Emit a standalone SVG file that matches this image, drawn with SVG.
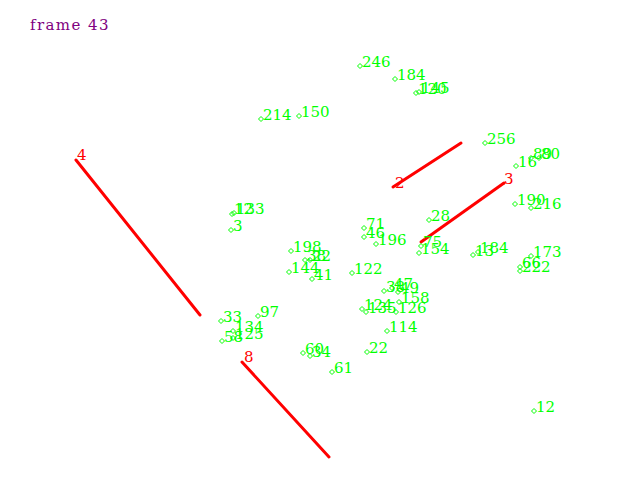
<svg xmlns="http://www.w3.org/2000/svg" xmlns:xlink="http://www.w3.org/1999/xlink" width="640" height="480" viewBox="0 0 640 480">
<style>
.lbl{font-family:"DejaVu Serif","Liberation Serif",serif;font-size:15px;fill:#00ff00}
.mk{fill:none;stroke:#00ff00;stroke-width:1}
.seg{stroke:#ff0000;stroke-width:3;stroke-linecap:round}
.rl{font-family:"DejaVu Serif","Liberation Serif",serif;font-size:15px;fill:#ff0000}
.title{font-family:"DejaVu Serif","Liberation Serif",serif;font-size:15px;fill:#800080;letter-spacing:1.4px}
</style>
<defs>
<path id="d" d="M0,-2.5 L2.5,0 L0,2.5 L-2.5,0 Z"/>
</defs>
<rect width="640" height="480" fill="#ffffff"/>
<text class="title" x="30" y="30">frame 43</text>
<g id="connectors">
<line class="seg" x1="76" y1="160" x2="200" y2="315"/>
<line class="seg" x1="242" y1="362" x2="329" y2="457"/>
<line class="seg" x1="393" y1="187" x2="461" y2="143"/>
<line class="seg" x1="421" y1="242" x2="504" y2="183"/>
<text class="rl" x="77" y="160">4</text>
<text class="rl" x="244" y="362">8</text>
<text class="rl" x="395" y="188">2</text>
<text class="rl" x="504" y="184">3</text>
</g>
<g id="n246"><use href="#d" class="mk" x="360" y="66"/><text class="lbl" x="362" y="67">246</text></g>
<g id="n184a"><use href="#d" class="mk" x="395" y="79"/><text class="lbl" x="397" y="80">184</text></g>
<g id="n120"><use href="#d" class="mk" x="416" y="93"/><text class="lbl" x="418" y="94">120</text></g>
<g id="n145"><use href="#d" class="mk" x="419" y="92"/><text class="lbl" x="421" y="93">145</text></g>
<g id="n214"><use href="#d" class="mk" x="261" y="119"/><text class="lbl" x="263" y="120">214</text></g>
<g id="n150"><use href="#d" class="mk" x="299" y="116"/><text class="lbl" x="301" y="117">150</text></g>
<g id="n256"><use href="#d" class="mk" x="485" y="143"/><text class="lbl" x="487" y="144">256</text></g>
<g id="n16"><use href="#d" class="mk" x="516" y="166"/><text class="lbl" x="518" y="167">16</text></g>
<g id="n89"><use href="#d" class="mk" x="531" y="158"/><text class="lbl" x="533" y="159">89</text></g>
<g id="n80"><use href="#d" class="mk" x="539" y="158"/><text class="lbl" x="541" y="159">80</text></g>
<g id="n190"><use href="#d" class="mk" x="515" y="204"/><text class="lbl" x="517" y="205">190</text></g>
<g id="n216"><use href="#d" class="mk" x="531" y="208"/><text class="lbl" x="533" y="209">216</text></g>
<g id="n28"><use href="#d" class="mk" x="429" y="220"/><text class="lbl" x="431" y="221">28</text></g>
<g id="n71"><use href="#d" class="mk" x="364" y="228"/><text class="lbl" x="366" y="229">71</text></g>
<g id="n46"><use href="#d" class="mk" x="364" y="237"/><text class="lbl" x="366" y="238">46</text></g>
<g id="n196"><use href="#d" class="mk" x="376" y="244"/><text class="lbl" x="378" y="245">196</text></g>
<g id="n75"><use href="#d" class="mk" x="421" y="246"/><text class="lbl" x="423" y="247">75</text></g>
<g id="n154"><use href="#d" class="mk" x="419" y="253"/><text class="lbl" x="421" y="254">154</text></g>
<g id="n198"><use href="#d" class="mk" x="291" y="251"/><text class="lbl" x="293" y="252">198</text></g>
<g id="n38a"><use href="#d" class="mk" x="305" y="260"/><text class="lbl" x="307" y="261">38</text></g>
<g id="n22a"><use href="#d" class="mk" x="310" y="260"/><text class="lbl" x="312" y="261">22</text></g>
<g id="n144"><use href="#d" class="mk" x="289" y="272"/><text class="lbl" x="291" y="273">144</text></g>
<g id="n41"><use href="#d" class="mk" x="312" y="279"/><text class="lbl" x="314" y="280">41</text></g>
<g id="n122"><use href="#d" class="mk" x="352" y="273"/><text class="lbl" x="354" y="274">122</text></g>
<g id="n13"><use href="#d" class="mk" x="473" y="255"/><text class="lbl" x="475" y="256">13</text></g>
<g id="n184b"><use href="#d" class="mk" x="478" y="252"/><text class="lbl" x="480" y="253">184</text></g>
<g id="n173"><use href="#d" class="mk" x="531" y="256"/><text class="lbl" x="533" y="257">173</text></g>
<g id="n66"><use href="#d" class="mk" x="520" y="267"/><text class="lbl" x="522" y="268">66</text></g>
<g id="n222"><use href="#d" class="mk" x="520" y="271"/><text class="lbl" x="522" y="272">222</text></g>
<g id="n12a"><use href="#d" class="mk" x="232" y="214"/><text class="lbl" x="234" y="214">12</text></g>
<g id="n133"><use href="#d" class="mk" x="234" y="213"/><text class="lbl" x="236" y="214">133</text></g>
<g id="n3"><use href="#d" class="mk" x="231" y="230"/><text class="lbl" x="233" y="231">3</text></g>
<g id="n38b"><use href="#d" class="mk" x="384" y="291"/><text class="lbl" x="386" y="292">38</text></g>
<g id="n47"><use href="#d" class="mk" x="392" y="288"/><text class="lbl" x="394" y="289">47</text></g>
<g id="n49"><use href="#d" class="mk" x="398" y="292"/><text class="lbl" x="400" y="293">49</text></g>
<g id="n124"><use href="#d" class="mk" x="362" y="309"/><text class="lbl" x="364" y="310">124</text></g>
<g id="n135"><use href="#d" class="mk" x="366" y="312"/><text class="lbl" x="368" y="313">135</text></g>
<g id="n158"><use href="#d" class="mk" x="399" y="302"/><text class="lbl" x="401" y="303">158</text></g>
<g id="n126"><use href="#d" class="mk" x="396" y="312"/><text class="lbl" x="398" y="313">126</text></g>
<g id="n114"><use href="#d" class="mk" x="387" y="331"/><text class="lbl" x="389" y="332">114</text></g>
<g id="n33"><use href="#d" class="mk" x="221" y="321"/><text class="lbl" x="223" y="322">33</text></g>
<g id="n97"><use href="#d" class="mk" x="258" y="316"/><text class="lbl" x="260" y="317">97</text></g>
<g id="n134"><use href="#d" class="mk" x="233" y="331"/><text class="lbl" x="235" y="332">134</text></g>
<g id="n125"><use href="#d" class="mk" x="233" y="338"/><text class="lbl" x="235" y="339">125</text></g>
<g id="n58"><use href="#d" class="mk" x="222" y="341"/><text class="lbl" x="224" y="342">58</text></g>
<g id="n60"><use href="#d" class="mk" x="303" y="353"/><text class="lbl" x="305" y="354">60</text></g>
<g id="n34"><use href="#d" class="mk" x="310" y="356"/><text class="lbl" x="312" y="357">34</text></g>
<g id="n61"><use href="#d" class="mk" x="332" y="372"/><text class="lbl" x="334" y="373">61</text></g>
<g id="n22b"><use href="#d" class="mk" x="367" y="352"/><text class="lbl" x="369" y="353">22</text></g>
<g id="n12b"><use href="#d" class="mk" x="534" y="411"/><text class="lbl" x="536" y="412">12</text></g>
</svg>
